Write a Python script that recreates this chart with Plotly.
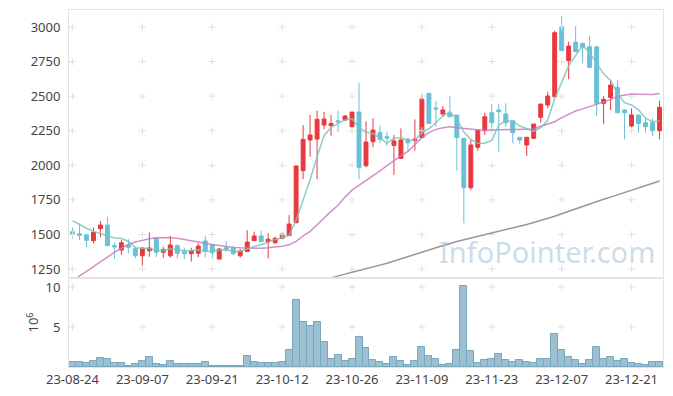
import pandas as pd
import plotly.graph_objects as go
from plotly.subplots import make_subplots

holidays = ["2023-09-28", "2023-09-29", "2023-10-02", "2023-10-03", "2023-10-09", "2023-12-25"]
days = [d for d in pd.bdate_range("2023-08-24", "2023-12-28") if d.strftime("%Y-%m-%d") not in holidays]
dates = [d.strftime("%y-%m-%d") for d in days]

opens = [1520, 1505, 1498, 1455, 1542, 1568, 1419, 1387, 1424, 1397,
         1346, 1382, 1472, 1371, 1346, 1419, 1376, 1361, 1364, 1453,
         1424, 1322, 1404, 1400, 1346, 1376, 1455, 1489, 1445, 1440,
         1472, 1491, 1585, 1961, 2183, 2190, 2291, 2286, 2322, 2327,
         2279, 2385, 1997, 2170, 2238, 2207, 2144, 2050, 2188, 2178,
         2199, 2520, 2414, 2371, 2376, 2364, 2195, 1838, 2130, 2250,
         2380, 2400, 2371, 2322, 2202, 2147, 2195, 2347, 2436, 2496,
         3002, 2756, 2891, 2882, 2857, 2857, 2448, 2491, 2564, 2400,
         2284, 2364, 2308, 2308, 2250]
highs = [1549, 1580, 1498, 1549, 1597, 1628, 1443, 1460, 1465, 1411,
         1411, 1515, 1479, 1411, 1489, 1429, 1404, 1404, 1436, 1491,
         1431, 1400, 1453, 1419, 1395, 1530, 1520, 1527, 1508, 1484,
         1513, 1640, 2000, 2291, 2364, 2395, 2387, 2364, 2395, 2364,
         2385, 2597, 2318, 2340, 2286, 2243, 2219, 2267, 2200, 2332,
         2508, 2525, 2467, 2429, 2501, 2364, 2195, 2183, 2255, 2380,
         2443, 2443, 2448, 2322, 2202, 2207, 2300, 2443, 2532, 2973,
         3080, 2894, 3007, 2882, 2935, 2857, 2501, 2617, 2617, 2405,
         2412, 2364, 2340, 2340, 2467]
lows = [1467, 1460, 1407, 1436, 1479, 1419, 1322, 1351, 1364, 1327,
        1274, 1339, 1335, 1332, 1332, 1327, 1320, 1303, 1335, 1337,
        1327, 1322, 1376, 1351, 1332, 1376, 1455, 1448, 1327, 1431,
        1465, 1491, 1585, 1899, 2062, 1899, 2260, 2212, 2243, 2322,
        2267, 1899, 1985, 2130, 2159, 2139, 1930, 2050, 2098, 2105,
        2199, 2303, 2279, 2351, 2351, 1960, 1581, 1821, 2105, 2219,
        2250, 2098, 2279, 2159, 2154, 2067, 2190, 2308, 2412, 2496,
        2829, 2622, 2821, 2737, 2708, 2356, 2298, 2400, 2380, 2188,
        2260, 2236, 2236, 2212, 2188]
closes = [1503, 1494, 1458, 1515, 1568, 1419, 1410, 1440, 1407, 1346,
          1400, 1402, 1371, 1390, 1424, 1364, 1361, 1380, 1416, 1376,
          1368, 1395, 1390, 1361, 1380, 1445, 1489, 1448, 1465, 1472,
          1503, 1575, 1995, 2188, 2219, 2332, 2335, 2303, 2313, 2356,
          2385, 1985, 2168, 2255, 2188, 2197, 2176, 2183, 2163, 2190,
          2479, 2303, 2407, 2400, 2351, 2202, 1838, 2147, 2255, 2351,
          2308, 2387, 2308, 2236, 2183, 2202, 2298, 2443, 2501, 2959,
          2829, 2862, 2821, 2853, 2708, 2448, 2477, 2580, 2380, 2380,
          2364, 2303, 2279, 2250, 2419]

ma5 = [1600, 1570, 1545, 1522, 1508, 1491, 1474, 1470, 1449, 1404,
       1401, 1399, 1385, 1382, 1397, 1390, 1382, 1384, 1389, 1379,
       1380, 1387, 1389, 1378, 1379, 1394, 1413, 1425, 1445, 1464,
       1475, 1493, 1602, 1747, 1896, 2062, 2214, 2275, 2300, 2328,
       2338, 2268, 2241, 2230, 2196, 2159, 2197, 2200, 2181, 2182,
       2238, 2264, 2308, 2356, 2388, 2333, 2240, 2188, 2159, 2159,
       2180, 2290, 2322, 2318, 2284, 2263, 2245, 2272, 2325, 2481,
       2606, 2719, 2794, 2865, 2815, 2738, 2661, 2613, 2519, 2453,
       2436, 2401, 2341, 2315, 2323]
ma20 = [1165, 1200, 1232, 1265, 1305, 1336, 1370, 1400, 1427, 1445,
        1458, 1468, 1476, 1478, 1478, 1472, 1462, 1452, 1445, 1437,
        1428, 1420, 1412, 1406, 1403, 1401, 1400, 1400, 1403, 1407,
        1414, 1425, 1450, 1490, 1522, 1570, 1620, 1667, 1711, 1770,
        1820, 1855, 1885, 1922, 1960, 1998, 2035, 2068, 2100, 2150,
        2200, 2236, 2260, 2272, 2278, 2272, 2267, 2260, 2252, 2252,
        2255, 2257, 2258, 2260, 2260, 2260, 2262, 2282, 2300, 2315,
        2345, 2372, 2393, 2408, 2424, 2440, 2458, 2475, 2500, 2510,
        2515, 2514, 2512, 2512, 2520]
ma120 = [None] * 36 + [
    1172, 1187, 1200, 1213, 1226, 1238, 1250, 1264, 1278, 1292,
    1307, 1322, 1338, 1354, 1370, 1387, 1404, 1420, 1436, 1449,
    1461, 1473, 1485, 1497, 1509, 1520, 1532, 1545, 1558, 1572,
    1586, 1600, 1615, 1632, 1650, 1668, 1686, 1705, 1722, 1738,
    1754, 1770, 1786, 1802, 1818, 1835, 1852, 1869, 1886]
volume_m = [0.58, 0.58, 0.46, 0.75, 1.08, 0.96, 0.46, 0.46, 0.08, 0.33,
            0.75, 1.21, 0.33, 0.21, 0.71, 0.33, 0.33, 0.33, 0.33, 0.58,
            0.08, 0.08, 0.08, 0.08, 0.08, 1.33, 0.62, 0.46, 0.46, 0.46,
            0.58, 2.08, 8.33, 5.58, 5.08, 5.58, 3.08, 0.96, 1.46, 0.71,
            0.96, 3.71, 2.33, 0.83, 0.58, 0.33, 1.21, 0.71, 0.21, 0.71,
            2.46, 1.33, 0.96, 0.21, 0.33, 2.08, 10.08, 1.96, 0.46, 0.83,
            0.96, 1.58, 0.83, 0.58, 0.83, 0.58, 0.46, 0.96, 0.96, 4.08,
            2.08, 1.21, 0.83, 0.33, 0.83, 2.46, 0.96, 1.21, 0.71, 0.96,
            0.46, 0.33, 0.21, 0.58, 0.58]

price_ticks = [1250, 1500, 1750, 2000, 2250, 2500, 2750, 3000]
vol_ticks = [5, 10]
x_ticks = dates[::10]

FONT = "Noto Sans, Open Sans, sans-serif"
TXT = "#444"
BORDER = "#e3e3e3"
CROSS = "#e0e0e0"

fig = make_subplots(rows=2, cols=1, shared_xaxes=True, vertical_spacing=0,
                    row_heights=[0.7507, 0.2493])

fig.add_trace(go.Candlestick(
    x=dates, open=opens, high=highs, low=lows, close=closes,
    increasing=dict(line=dict(color="#e8393e", width=1), fillcolor="#e8393e"),
    decreasing=dict(line=dict(color="#69c0d8", width=1), fillcolor="#69c0d8"),
    whiskerwidth=0, hoverinfo="skip"), row=1, col=1)

fig.add_trace(go.Bar(x=dates, y=volume_m, hoverinfo="skip",
                     marker=dict(color="#9bc0d1", line=dict(color="#78a6bd", width=1))),
              row=2, col=1)

# grid crosses
gx = [x for x in x_ticks for _ in price_ticks]
gy = [y for _ in x_ticks for y in price_ticks]
fig.add_trace(go.Scatter(x=gx, y=gy, mode="markers", hoverinfo="skip",
                         marker=dict(symbol="cross-thin", size=5,
                                     line=dict(color=CROSS, width=1))), row=1, col=1)
vx = [x for x in x_ticks for _ in vol_ticks]
vy = [y for _ in x_ticks for y in vol_ticks]
fig.add_trace(go.Scatter(x=vx, y=vy, mode="markers", hoverinfo="skip",
                         marker=dict(symbol="cross-thin", size=5,
                                     line=dict(color=CROSS, width=1))), row=2, col=1)

fig.add_trace(go.Scatter(x=dates, y=ma120, mode="lines", hoverinfo="skip",
                         line=dict(color="rgba(140,140,140,0.9)", width=1.5)), row=1, col=1)
fig.add_trace(go.Scatter(x=dates, y=ma20, mode="lines", hoverinfo="skip",
                         line=dict(color="rgba(200,125,190,0.85)", width=1.5)), row=1, col=1)
fig.add_trace(go.Scatter(x=dates, y=ma5, mode="lines", hoverinfo="skip",
                         line=dict(color="rgba(125,195,185,0.85)", width=1.5)), row=1, col=1)

fig.update_layout(
    width=665, height=388,
    margin=dict(l=61, r=10, t=2, b=29, autoexpand=False),
    paper_bgcolor="white", plot_bgcolor="white",
    showlegend=False, bargap=0, boxgap=0.2,
    font=dict(family=FONT, size=13, color=TXT),
)
for r in (1, 2):
    fig.update_xaxes(type="category", categoryorder="array", categoryarray=dates,
                     range=[-0.5, len(dates) - 0.5],
                     tickmode="array", tickvals=x_ticks, ticktext=x_ticks, tickangle=0,
                     showgrid=False, zeroline=False, showline=True, mirror=True,
                     linecolor=BORDER, linewidth=1, ticks="", automargin=False,
                     rangeslider=dict(visible=False), row=r, col=1)
fig.update_xaxes(showticklabels=False, row=1, col=1)
fig.update_xaxes(showticklabels=True, tickfont=dict(size=13, color=TXT), row=2, col=1)

fig.update_yaxes(range=[1185, 3123], tickvals=price_ticks, showgrid=False, zeroline=False,
                 showline=True, mirror=True, linecolor=BORDER, linewidth=1,
                 ticks="outside", ticklen=5, tickcolor="rgba(0,0,0,0)", automargin=False,
                 tickfont=dict(size=13, color=TXT), row=1, col=1)
fig.update_yaxes(range=[0, 11.125], tickvals=vol_ticks, showgrid=False, zeroline=False,
                 showline=True, mirror=True, linecolor=BORDER, linewidth=1,
                 ticks="outside", ticklen=5, tickcolor="rgba(0,0,0,0)", automargin=False,
                 tickfont=dict(size=13, color=TXT),
                 title=dict(text="10<sup>6</sup>", font=dict(size=13, color=TXT), standoff=3),
                 row=2, col=1)

fig.add_annotation(text="InfoPointer.com", xref="paper", yref="paper",
                   x=0.99, y=0.262, xanchor="right", yanchor="bottom", showarrow=False,
                   font=dict(family=FONT, size=29, color="rgba(170,198,215,0.6)"))

fig.write_html("out.html")
